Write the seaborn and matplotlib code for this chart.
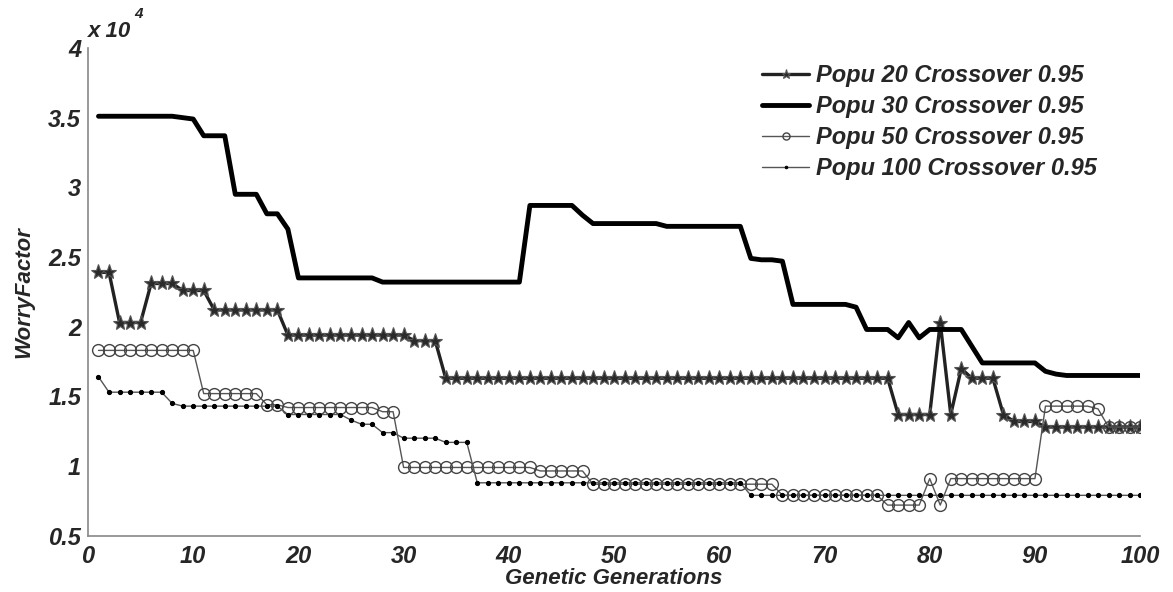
import numpy as np
import pandas as pd
import matplotlib
matplotlib.use("Agg")
import matplotlib.pyplot as plt
import seaborn as sns

# Data (WorryFactor in units of 10^4)
generations = list(range(1, 101))

popu20 = [2.39, 2.39, 2.03, 2.03, 2.03, 2.31, 2.31, 2.31, 2.26, 2.26,
          2.26, 2.12, 2.12, 2.12, 2.12, 2.12, 2.12, 2.12, 1.94, 1.94,
          1.94, 1.94, 1.94, 1.94, 1.94, 1.94, 1.94, 1.94, 1.94, 1.94,
          1.90, 1.90, 1.90, 1.63, 1.63, 1.63, 1.63, 1.63, 1.63, 1.63,
          1.63, 1.63, 1.63, 1.63, 1.63, 1.63, 1.63, 1.63, 1.63, 1.63,
          1.63, 1.63, 1.63, 1.63, 1.63, 1.63, 1.63, 1.63, 1.63, 1.63,
          1.63, 1.63, 1.63, 1.63, 1.63, 1.63, 1.63, 1.63, 1.63, 1.63,
          1.63, 1.63, 1.63, 1.63, 1.63, 1.63, 1.37, 1.37, 1.37, 1.37,
          2.03, 1.37, 1.70, 1.63, 1.63, 1.63, 1.37, 1.32, 1.32, 1.32,
          1.28, 1.28, 1.28, 1.28, 1.28, 1.28, 1.28, 1.28, 1.28, 1.28]

popu30 = [3.51, 3.51, 3.51, 3.51, 3.51, 3.51, 3.51, 3.51, 3.50, 3.49,
          3.37, 3.37, 3.37, 2.95, 2.95, 2.95, 2.81, 2.81, 2.70, 2.35,
          2.35, 2.35, 2.35, 2.35, 2.35, 2.35, 2.35, 2.32, 2.32, 2.32,
          2.32, 2.32, 2.32, 2.32, 2.32, 2.32, 2.32, 2.32, 2.32, 2.32,
          2.32, 2.87, 2.87, 2.87, 2.87, 2.87, 2.80, 2.74, 2.74, 2.74,
          2.74, 2.74, 2.74, 2.74, 2.72, 2.72, 2.72, 2.72, 2.72, 2.72,
          2.72, 2.72, 2.49, 2.48, 2.48, 2.47, 2.16, 2.16, 2.16, 2.16,
          2.16, 2.16, 2.14, 1.98, 1.98, 1.98, 1.92, 2.03, 1.92, 1.98,
          1.98, 1.98, 1.98, 1.86, 1.74, 1.74, 1.74, 1.74, 1.74, 1.74,
          1.68, 1.66, 1.65, 1.65, 1.65, 1.65, 1.65, 1.65, 1.65, 1.65]

popu50 = [1.83, 1.83, 1.83, 1.83, 1.83, 1.83, 1.83, 1.83, 1.83, 1.83,
          1.52, 1.52, 1.52, 1.52, 1.52, 1.52, 1.44, 1.44, 1.42, 1.42,
          1.42, 1.42, 1.42, 1.42, 1.42, 1.42, 1.42, 1.39, 1.39, 0.99,
          0.99, 0.99, 0.99, 0.99, 0.99, 0.99, 0.99, 0.99, 0.99, 0.99,
          0.99, 0.99, 0.965, 0.965, 0.965, 0.965, 0.965, 0.87, 0.87, 0.87,
          0.87, 0.87, 0.87, 0.87, 0.87, 0.87, 0.87, 0.87, 0.87, 0.87,
          0.87, 0.87, 0.87, 0.87, 0.87, 0.79, 0.79, 0.79, 0.79, 0.79,
          0.79, 0.79, 0.79, 0.79, 0.79, 0.72, 0.72, 0.72, 0.72, 0.91,
          0.72, 0.91, 0.91, 0.91, 0.91, 0.91, 0.91, 0.91, 0.91, 0.91,
          1.43, 1.43, 1.43, 1.43, 1.43, 1.41, 1.28, 1.28, 1.28, 1.28]

popu100 = [1.64, 1.53, 1.53, 1.53, 1.53, 1.53, 1.53, 1.45, 1.43, 1.43,
           1.43, 1.43, 1.43, 1.43, 1.43, 1.43, 1.43, 1.43, 1.37, 1.37,
           1.37, 1.37, 1.37, 1.37, 1.33, 1.30, 1.30, 1.24, 1.24, 1.20,
           1.20, 1.20, 1.20, 1.17, 1.17, 1.17, 0.88, 0.88, 0.88, 0.88,
           0.88, 0.88, 0.88, 0.88, 0.88, 0.88, 0.88, 0.88, 0.88, 0.88,
           0.88, 0.88, 0.88, 0.88, 0.88, 0.88, 0.88, 0.88, 0.88, 0.88,
           0.88, 0.88, 0.79, 0.79, 0.79, 0.79, 0.79, 0.79, 0.79, 0.79,
           0.79, 0.79, 0.79, 0.79, 0.79, 0.79, 0.79, 0.79, 0.79, 0.79,
           0.79, 0.79, 0.79, 0.79, 0.79, 0.79, 0.79, 0.79, 0.79, 0.79,
           0.79, 0.79, 0.79, 0.79, 0.79, 0.79, 0.79, 0.79, 0.79, 0.79]

labels = ["Popu 20 Crossover 0.95", "Popu 30 Crossover 0.95",
          "Popu 50 Crossover 0.95", "Popu 100 Crossover 0.95"]

yticks = [0.5, 1, 1.5, 2, 2.5, 3, 3.5, 4]
ytick_labels = ["0.5", "1", "1.5", "2", "2.5", "3", "3.5", "4"]
xticks = [0, 10, 20, 30, 40, 50, 60, 70, 80, 90, 100]

sns.set_style("white")
plt.rcParams['font.family'] = ['Liberation Sans', 'DejaVu Sans']
plt.rcParams['font.weight'] = 'bold'
plt.rcParams['font.style'] = 'italic'

fig = plt.figure(figsize=(11.73, 5.92), dpi=100)
ax = fig.add_axes([0.075, 0.095, 0.897, 0.824])

# Popu 20
sns.lineplot(x=generations, y=popu20, ax=ax, color='#222222', linewidth=2.4,
             marker='*', markersize=11, markerfacecolor='#2a2a2a',
             markeredgecolor='#555555', markeredgewidth=0.8, label=labels[0])
# Popu 30
sns.lineplot(x=generations, y=popu30, ax=ax, color='black', linewidth=3.5,
             label=labels[1])
# Popu 50
sns.lineplot(x=generations, y=popu50, ax=ax, color='#555555', linewidth=1.0,
             marker='o', markersize=8.5, markerfacecolor='none',
             markeredgecolor='#444444', markeredgewidth=1.0, label=labels[2])
# Popu 100
sns.lineplot(x=generations, y=popu100, ax=ax, color='#555555', linewidth=1.0,
             marker='o', markersize=3, markerfacecolor='black',
             markeredgecolor='black', label=labels[3])

ax.set_xlim(0, 100)
ax.set_ylim(0.5, 4)
ax.set_xticks(xticks)
ax.set_yticks(yticks)
ax.set_yticklabels(ytick_labels)
ax.tick_params(direction='in', length=6, color='#777777', labelsize=17,
               width=1)
ax.tick_params(axis='x', pad=7)
ax.tick_params(axis='y', pad=5)
for lab in ax.get_xticklabels() + ax.get_yticklabels():
    lab.set_fontweight('bold')
    lab.set_fontstyle('italic')

for side in ['top', 'right']:
    ax.spines[side].set_visible(False)
for side in ['left', 'bottom']:
    ax.spines[side].set_color('#888888')
    ax.spines[side].set_linewidth(1.2)

ax.set_xlabel("Genetic Generations", fontsize=16, fontweight='bold',
              fontstyle='italic', labelpad=0)
ax.set_ylabel("WorryFactor", fontsize=16, fontweight='bold',
              fontstyle='italic', labelpad=10)

# Scale factor text
ax.text(0.0, 1.012, "x 10", transform=ax.transAxes, fontsize=16,
        fontstyle='italic', fontweight='bold', ha='left', va='bottom')
ax.text(0.044, 1.055, "4", transform=ax.transAxes, fontsize=11,
        fontstyle='italic', fontweight='bold', ha='left', va='bottom')

leg = ax.legend(loc='upper right', bbox_to_anchor=(0.975, 1.0), frameon=False,
                fontsize=17, handlelength=2.0, handletextpad=0.3,
                labelspacing=0.33, borderaxespad=0.3)
for t in leg.get_texts():
    t.set_fontweight('bold')
    t.set_fontstyle('italic')
for h in leg.get_lines():
    h.set_markersize(h.get_markersize() * 0.6)

plt.savefig("out.png", dpi=100)
